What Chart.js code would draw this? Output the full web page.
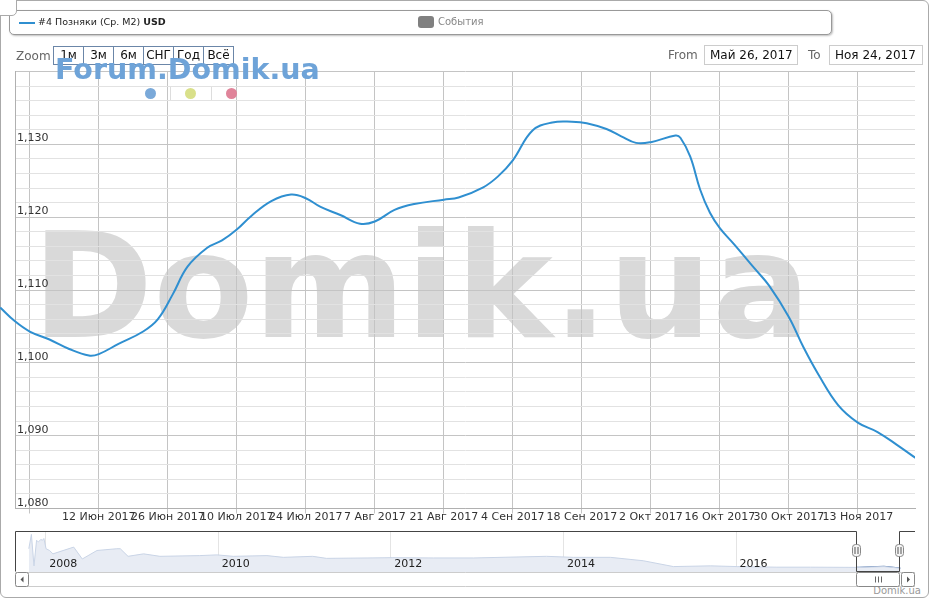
<!DOCTYPE html>
<html>
<head>
<meta charset="utf-8">
<script src="https://cdn.jsdelivr.net/npm/chart.js@4.4.1/dist/chart.umd.min.js"></script>
<style>
  body { margin: 0; width: 931px; height: 600px; overflow: hidden; background: #fff; position: relative; font-family: "DejaVu Sans", sans-serif; }
  .abs { position: absolute; }
  #frame { left: 0; top: 0; width: 927px; height: 596px; border: 1px solid #aaa; border-radius: 6px; }
  #corner { left: -6px; top: -6px; width: 21px; height: 20px; border: 1px solid #aaa; border-radius: 5px; background: #fff; z-index: 5; }
  #legend { left: 9px; top: 10px; width: 821px; height: 23px; border: 1px solid #999; border-radius: 5px; background: #fff; box-shadow: 1px 1px 2px rgba(0,0,0,0.25); z-index: 3; }
  #legend .sym { left: 9px; top: 11px; width: 16px; height: 2px; background: #2f8fd0; }
  #legend .txt { left: 28px; top: 5px; font-size: 9.5px; color: #222; white-space: nowrap; }
  #legend .ev { left: 408px; top: 5px; width: 16px; height: 12px; background: #808080; border-radius: 3px; }
  #legend .evt { left: 428px; top: 5px; font-size: 10px; color: #888; }
  #zoomLbl { left: 16px; top: 49px; font-size: 12px; color: #666; z-index: 3; }
  #btns { left: 53px; top: 46px; height: 17px; border: 1px solid #6b86a8; display: flex; z-index: 3; background: #fff; }
  #btns div { width: 29px; border-right: 1px solid #6b86a8; font-size: 12px; line-height: 17px; text-align: center; color: #111; }
  #btns div:last-child { border-right: none; }
  .lbl { font-size: 12px; color: #666; top: 48px; z-index: 3; }
  .inp { top: 45px; height: 18px; border: 1px solid #ccc; font-size: 12px; line-height: 18px; color: #111; padding-left: 5px; z-index: 3; background: #fff; }
  #bigmark { left: 32px; top: 213px; font-family: "DejaVu Sans", sans-serif; font-weight: bold; font-size: 146px; line-height: 146px; color: #d9d9d9; white-space: nowrap; z-index: 0; }
  #forum { left: 55px; top: 56px; font-family: "DejaVu Sans", sans-serif; font-weight: bold; font-size: 28.5px; line-height: 28.5px; color: #6ea3d8; white-space: nowrap; z-index: 4; }
  .dot { width: 11px; height: 11px; border-radius: 50%; top: 88px; z-index: 4; }
  .sep { width: 1px; height: 13px; top: 87px; background: #ddd; z-index: 4; }
  #main { left: 0; top: 0; z-index: 1; }
  #nav { left: 15px; top: 531px; z-index: 1; }
  #credit { right: 10px; top: 585px; font-size: 10px; color: #999; }
</style>
</head>
<body>
<div id="frame" class="abs"></div>
<div id="corner" class="abs"></div>
<div id="bigmark" class="abs">Domik.ua</div>
<canvas id="main" class="abs" width="931" height="600"></canvas>
<canvas id="nav" class="abs" width="901" height="56"></canvas>

<div id="legend" class="abs">
  <div class="abs sym"></div>
  <div class="abs txt">#4 Позняки (Ср. M2) <b>USD</b></div>
  <div class="abs ev"></div>
  <div class="abs evt">События</div>
</div>

<div id="zoomLbl" class="abs">Zoom</div>
<div id="btns" class="abs"><div>1м</div><div>3м</div><div>6м</div><div>СНГ</div><div>Год</div><div>Всё</div></div>
<div class="abs lbl" style="left:668px">From</div>
<div class="abs inp" style="left:704px; width:87px">Май 26, 2017</div>
<div class="abs lbl" style="left:808px">To</div>
<div class="abs inp" style="left:829px; width:87px">Ноя 24, 2017</div>

<div id="forum" class="abs">Forum.Domik.ua</div>
<div class="abs dot" style="left:145px; background:#7aa9d9"></div>
<div class="abs sep" style="left:170px"></div>
<div class="abs dot" style="left:185px; background:#d9e08a"></div>
<div class="abs sep" style="left:211px"></div>
<div class="abs dot" style="left:226px; background:#e0849a"></div>
<div id="credit" class="abs">Domik.ua</div>

<script>
// price, USD per m2
const dates = [
    "2017-05-23", "2017-05-26", "2017-05-29", "2017-06-02", "2017-06-06", "2017-06-10",
    "2017-06-12", "2017-06-16", "2017-06-21", "2017-06-24", "2017-06-27", "2017-06-30",
    "2017-07-04", "2017-07-07", "2017-07-10", "2017-07-13", "2017-07-17", "2017-07-21",
    "2017-07-24", "2017-07-27", "2017-07-31", "2017-08-04", "2017-08-07", "2017-08-11",
    "2017-08-15", "2017-08-21", "2017-08-24", "2017-08-29", "2017-09-01", "2017-09-04",
    "2017-09-08", "2017-09-12", "2017-09-16", "2017-09-19", "2017-09-23", "2017-09-26",
    "2017-09-29", "2017-10-02", "2017-10-07", "2017-10-08", "2017-10-10", "2017-10-12",
    "2017-10-14", "2017-10-16", "2017-10-19", "2017-10-23", "2017-10-26", "2017-10-30",
    "2017-11-02", "2017-11-05", "2017-11-09", "2017-11-13", "2017-11-17", "2017-11-21",
    "2017-11-25",
];
const prices = [
    1107.6, 1105.7, 1104.3, 1103.2, 1101.9, 1101.0,
    1101.2, 1102.6, 1104.3, 1106.0, 1109.4, 1113.2,
    1115.8, 1116.8, 1118.3, 1120.2, 1122.2, 1123.1,
    1122.6, 1121.4, 1120.3, 1119.1, 1119.4, 1121.0,
    1121.8, 1122.4, 1122.7, 1124.1, 1125.6, 1127.8,
    1131.9, 1133.0, 1133.1, 1132.9, 1132.1, 1131.1,
    1130.2, 1130.3, 1131.2, 1130.9, 1128.3, 1123.8,
    1120.6, 1118.5, 1116.2, 1113.0, 1110.6, 1106.3,
    1102.1, 1098.4, 1094.2, 1091.8, 1090.5, 1088.7,
    1086.8,
];
const tickDates = [
    "2017-05-29", "2017-06-12", "2017-06-26", "2017-07-10", "2017-07-24", "2017-08-07",
    "2017-08-21", "2017-09-04", "2017-09-18", "2017-10-02", "2017-10-16", "2017-10-30",
    "2017-11-13",
];
const yLabelValues = [1080, 1090, 1100, 1110, 1120, 1130];
const rangeFrom = "2017-05-26";
const rangeTo = "2017-11-24";
const monthsRu = ["Янв", "Фев", "Мар", "Апр", "Май", "Июн", "Июл", "Авг", "Сен", "Окт", "Ноя", "Дек"];

// navigator (whole history)
const navYears = [
    2007.81, 2007.84, 2007.87, 2007.90, 2007.92, 2007.95, 2007.97, 2007.985, 2008.01, 2008.05,
    2008.09, 2008.33, 2008.43, 2008.60, 2008.83, 2008.87, 2008.96, 2009.14, 2009.33, 2009.79,
    2009.99, 2010.18, 2010.57, 2010.76, 2011.10, 2011.26, 2011.73, 2012.03, 2012.50, 2012.96,
    2013.81, 2014.12, 2014.55, 2014.93, 2015.28, 2015.71, 2016.02, 2016.48, 2016.87, 2017.40,
    2017.43, 2017.72, 2017.91,
];
const navValues = [
    1808, 2368, 1140, 2140, 2072, 2168, 2140, 2208, 1808, 1740,
    1608, 1872, 1408, 1740, 1808, 1808, 1512, 1608, 1512, 1540,
    1568, 1512, 1540, 1472, 1512, 1432, 1448, 1460, 1448, 1448,
    1512, 1472, 1472, 1340, 1112, 1140, 1112, 1088, 1088, 1080,
    1075, 1112, 1048,
];
const navYearLabels = [2008, 2010, 2012, 2014, 2016];

const utc = (s) => { const [y, m, d] = s.split("-").map(Number); return Date.UTC(y, m - 1, d); };
const dayOf = (s) => (utc(s) - utc(rangeFrom)) / 864e5;
const yearOf = (s) => { const y = +s.slice(0, 4); return y + (utc(s) - Date.UTC(y, 0, 1)) / (Date.UTC(y + 1, 0, 1) - Date.UTC(y, 0, 1)); };
const fmtDay = (d) => { const t = new Date(utc(rangeFrom) + d * 864e5); return t.getUTCDate() + " " + monthsRu[t.getUTCMonth()] + " " + t.getUTCFullYear(); };

const FONT = '"DejaVu Sans", sans-serif';

const mainLabels = {
    id: "mainLabels",
    afterDraw(chart) {
        const { ctx, chartArea: ca, scales } = chart;
        ctx.save();
        ctx.fillStyle = "#333";
        ctx.font = "11px " + FONT;
        ctx.textAlign = "left";
        ctx.textBaseline = "alphabetic";
        yLabelValues.forEach((v) => {
            ctx.fillText(v.toLocaleString("en-US"), ca.left + 2, scales.y.getPixelForValue(v) - 3);
        });
        ctx.textAlign = "center";
        ctx.textBaseline = "middle";
        tickDates.forEach((s) => {
            const d = dayOf(s);
            const x = scales.x.getPixelForValue(d);
            const txt = fmtDay(d);
            if (x - ctx.measureText(txt).width / 2 < 0) return;
            ctx.fillText(txt, x, ca.bottom + 9);
        });
        ctx.restore();
    },
};

new Chart(document.getElementById("main"), {
    type: "line",
    data: {
        datasets: [{
            data: dates.map((s, i) => ({ x: dayOf(s), y: prices[i] })),
            borderColor: "#2f8fd0",
            borderWidth: 2,
            pointRadius: 0,
            tension: 0.4,
            clip: { left: 15, top: 4, right: 0, bottom: 4 },
        }],
    },
    options: {
        responsive: false,
        animation: false,
        events: [],
        layout: { padding: { left: 15, top: 71.5, right: 16, bottom: 86.5 } },
        plugins: { legend: { display: false }, tooltip: { enabled: false } },
        scales: {
            x: {
                type: "linear",
                min: 0,
                max: dayOf(rangeTo) + 0.6,
                afterBuildTicks: (axis) => { axis.ticks = tickDates.map((s) => ({ value: dayOf(s) })); },
                ticks: { display: false },
                grid: { color: "#c4c4c4", tickLength: 5, drawTicks: true },
                border: { color: "#b0b0b0" },
            },
            y: {
                min: 1080,
                max: 1140,
                ticks: { display: false, stepSize: 2 },
                grid: {
                    drawTicks: false,
                    color: (c) => (c.tick && c.tick.value % 10 === 0 ? "#c4c4c4" : "#e2e2e2"),
                },
                border: { color: "#b0b0b0" },
            },
        },
    },
    plugins: [mainLabels],
});

const selStart = yearOf(rangeFrom);
const selEnd = yearOf(rangeTo);

const navDecor = {
    id: "navDecor",
    beforeDatasetsDraw(chart) {
        const { ctx, chartArea: ca, scales } = chart;
        ctx.save();
        ctx.strokeStyle = "#e4e4e4";
        ctx.lineWidth = 1;
        navYearLabels.forEach((y) => {
            const x = Math.round(scales.x.getPixelForValue(y)) + 0.5;
            ctx.beginPath(); ctx.moveTo(x, ca.top); ctx.lineTo(x, ca.bottom); ctx.stroke();
        });
        ctx.restore();
    },
    afterDatasetsDraw(chart) {
        const { ctx, chartArea: ca, scales } = chart;
        const x0 = Math.round(scales.x.getPixelForValue(selStart)) + 0.5;
        const x1 = Math.round(scales.x.getPixelForValue(selEnd)) + 0.5;
        const L = ca.left + 0.5, R = ca.right, T = ca.top + 0.5, B = ca.bottom - 0.5;
        ctx.save();
        ctx.fillStyle = "#222";
        ctx.font = "11px " + FONT;
        ctx.textBaseline = "middle";
        navYearLabels.forEach((y) => ctx.fillText(String(y), scales.x.getPixelForValue(y) + 4, ca.bottom - 8));

        // scrollbar
        const sT = ca.bottom + 0.5, sB = ca.bottom + 14.5;
        ctx.strokeStyle = "#cccccc";
        ctx.beginPath(); ctx.moveTo(L, sT); ctx.lineTo(R, sT); ctx.moveTo(L, sB); ctx.lineTo(R, sB); ctx.stroke();
        const box = (a, b) => {
            ctx.fillStyle = "#fff";
            ctx.strokeStyle = "#888";
            ctx.beginPath(); ctx.roundRect(a, sT, b - a, sB - sT, 2); ctx.fill(); ctx.stroke();
        };
        box(L, L + 13);
        box(x0, x1);
        box(R - 13.5, R - 0.5);
        ctx.fillStyle = "#555";
        const cy = (sT + sB) / 2;
        ctx.beginPath(); ctx.moveTo(L + 5, cy); ctx.lineTo(L + 8, cy - 3); ctx.lineTo(L + 8, cy + 3); ctx.fill();
        ctx.beginPath(); ctx.moveTo(R - 5, cy); ctx.lineTo(R - 8, cy - 3); ctx.lineTo(R - 8, cy + 3); ctx.fill();
        ctx.strokeStyle = "#666";
        const xm = Math.round((x0 + x1) / 2) + 0.5;
        [-3, 0, 3].forEach((o) => { ctx.beginPath(); ctx.moveTo(xm + o, cy - 3); ctx.lineTo(xm + o, cy + 3); ctx.stroke(); });

        // outline around selection
        ctx.strokeStyle = "#444";
        ctx.beginPath();
        ctx.moveTo(L, B); ctx.lineTo(L, T); ctx.lineTo(x0, T); ctx.lineTo(x0, B); ctx.lineTo(x1, B);
        ctx.lineTo(x1, T); ctx.lineTo(R, T);
        ctx.stroke();

        // handles
        [x0, x1].forEach((x) => {
            ctx.fillStyle = "#f4f4f4";
            ctx.strokeStyle = "#888";
            ctx.beginPath(); ctx.roundRect(x - 4, ca.top + 13.5, 8, 12, 3); ctx.fill(); ctx.stroke();
            ctx.strokeStyle = "#555";
            ctx.beginPath();
            ctx.moveTo(x - 1.5, ca.top + 16); ctx.lineTo(x - 1.5, ca.top + 23);
            ctx.moveTo(x + 1.5, ca.top + 16); ctx.lineTo(x + 1.5, ca.top + 23);
            ctx.stroke();
        });
        ctx.restore();
    },
};

const navPts = navYears.map((y, i) => ({ x: y, y: navValues[i] }));

new Chart(document.getElementById("nav"), {
    type: "line",
    data: {
        datasets: [
            {
                data: navPts,
                borderColor: "#c9d4e6",
                backgroundColor: "#e8ecf4",
                borderWidth: 1,
                pointRadius: 0,
                fill: "start",
            },
            {
                data: navPts.filter((p) => p.x >= selStart - 0.01),
                borderColor: "#4d72aa",
                backgroundColor: "#a9bad6",
                borderWidth: 1.5,
                pointRadius: 0,
                fill: "start",
            },
        ],
    },
    options: {
        responsive: false,
        animation: false,
        events: [],
        layout: { padding: { left: 0, top: 0, right: 1, bottom: 15 } },
        plugins: { legend: { display: false }, tooltip: { enabled: false } },
        scales: {
            x: { type: "linear", display: false, min: 2007.65, max: 2018.08 },
            y: { display: false, min: 900, max: 2500 },
        },
    },
    plugins: [navDecor],
});
</script>
</body>
</html>
